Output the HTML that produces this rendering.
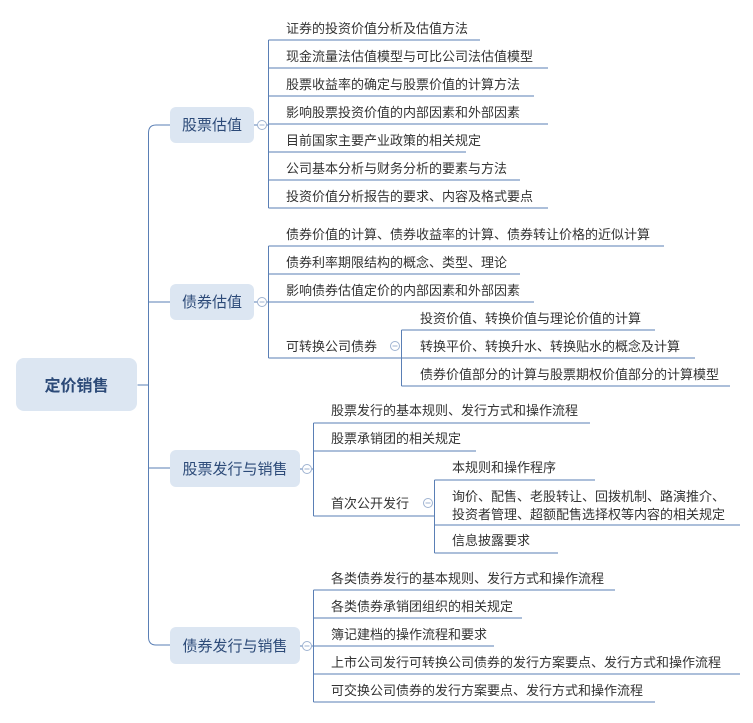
<!DOCTYPE html>
<html><head><meta charset="utf-8"><style>
html,body{margin:0;padding:0;background:#fff;}
svg text{font-family:"Liberation Sans","Noto Sans CJK SC",sans-serif;fill:#333;}
</style></head><body>
<svg width="753" height="718" viewBox="0 0 753 718" xmlns="http://www.w3.org/2000/svg">
<g stroke="#5a7fb5" stroke-width="1" fill="none">
<!-- spine -->
<path d="M137.5 385 H148.5"/>
<path d="M170 125 H156 Q148.5 125 148.5 133 V637 Q148.5 645 156 645 H170"/>
<path d="M148.5 302 H170 M148.5 468 H170"/>
<!-- stock valuation -->
<path d="M254 125 H268.5 M268.5 40 V208"/>
<path d="M268.5 40H480 M268.5 68H548 M268.5 96H534 M268.5 124H548 M268.5 152H466 M268.5 180H520 M268.5 208H548"/>
<!-- bond valuation -->
<path d="M254 302 H268.5 M268.5 246 V358"/>
<path d="M268.5 246H664 M268.5 274H520 M268.5 302H534 M268.5 358H401"/>
<path d="M401.5 330 V386 M401.5 330H655 M401.5 358H695 M401.5 386H730"/>
<!-- stock issuance -->
<path d="M300 469 H313.5 M313.5 423 V516"/>
<path d="M313.5 423H590 M313.5 451H476 M313.5 516H434"/>
<path d="M434.5 480 V553 M434.5 480H595 M434.5 525H740 M434.5 553H558"/>
<!-- bond issuance -->
<path d="M300 646 H313.5 M313.5 590 V702"/>
<path d="M313.5 590H615 M313.5 618H522 M313.5 646H494 M313.5 674H740 M313.5 702H655"/>
</g>
<g fill="#fff" stroke="#9fb3d1" stroke-width="1">
<circle cx="262" cy="125" r="4.5"/><circle cx="262" cy="302" r="4.5"/>
<circle cx="307" cy="469" r="4.5"/><circle cx="307" cy="646" r="4.5"/>
<circle cx="395" cy="346" r="4.5"/><circle cx="428" cy="503" r="4.5"/>
</g>
<g stroke="#9fb3d1" stroke-width="1">
<path d="M259.5 125h5M259.5 302h5M304.5 469h5M304.5 646h5M392.5 346h5M425.5 503h5"/>
</g>
<g fill="#dce6f2">
<rect x="16" y="358" width="121" height="53" rx="8"/>
<rect x="170" y="107" width="84" height="36" rx="6"/>
<rect x="170" y="284" width="84" height="36" rx="6"/>
<rect x="170" y="450" width="130" height="37" rx="6"/>
<rect x="170" y="627" width="130" height="37" rx="6"/>
</g>
<text x="76.5" y="391" text-anchor="middle" font-size="16" font-weight="bold" style="fill:#2c4a78">定价销售</text>
<g font-size="15" text-anchor="middle" style="fill:#2c4a78">
<text x="212" y="130" style="fill:#2c4a78">股票估值</text>
<text x="212" y="307" style="fill:#2c4a78">债券估值</text>
<text x="235" y="474" style="fill:#2c4a78">股票发行与销售</text>
<text x="235" y="651" style="fill:#2c4a78">债券发行与销售</text>
</g>
<g font-size="13">
<text x="286" y="33">证券的投资价值分析及估值方法</text>
<text x="286" y="61">现金流量法估值模型与可比公司法估值模型</text>
<text x="286" y="89">股票收益率的确定与股票价值的计算方法</text>
<text x="286" y="117">影响股票投资价值的内部因素和外部因素</text>
<text x="286" y="145">目前国家主要产业政策的相关规定</text>
<text x="286" y="173">公司基本分析与财务分析的要素与方法</text>
<text x="286" y="201">投资价值分析报告的要求、内容及格式要点</text>
<text x="286" y="239">债券价值的计算、债券收益率的计算、债券转让价格的近似计算</text>
<text x="286" y="267">债券利率期限结构的概念、类型、理论</text>
<text x="286" y="295">影响债券估值定价的内部因素和外部因素</text>
<text x="286" y="351">可转换公司债券</text>
<text x="420" y="323">投资价值、转换价值与理论价值的计算</text>
<text x="420" y="351">转换平价、转换升水、转换贴水的概念及计算</text>
<text x="420" y="379">债券价值部分的计算与股票期权价值部分的计算模型</text>
<text x="331" y="415">股票发行的基本规则、发行方式和操作流程</text>
<text x="331" y="443">股票承销团的相关规定</text>
<text x="331" y="508">首次公开发行</text>
<text x="452" y="472">本规则和操作程序</text>
<text x="452" y="501">询价、配售、老股转让、回拨机制、路演推介、</text>
<text x="452" y="519">投资者管理、超额配售选择权等内容的相关规定</text>
<text x="452" y="545">信息披露要求</text>
<text x="331" y="583">各类债券发行的基本规则、发行方式和操作流程</text>
<text x="331" y="611">各类债券承销团组织的相关规定</text>
<text x="331" y="639">簿记建档的操作流程和要求</text>
<text x="331" y="667">上市公司发行可转换公司债券的发行方案要点、发行方式和操作流程</text>
<text x="331" y="695">可交换公司债券的发行方案要点、发行方式和操作流程</text>
</g>
</svg>
</body></html>
